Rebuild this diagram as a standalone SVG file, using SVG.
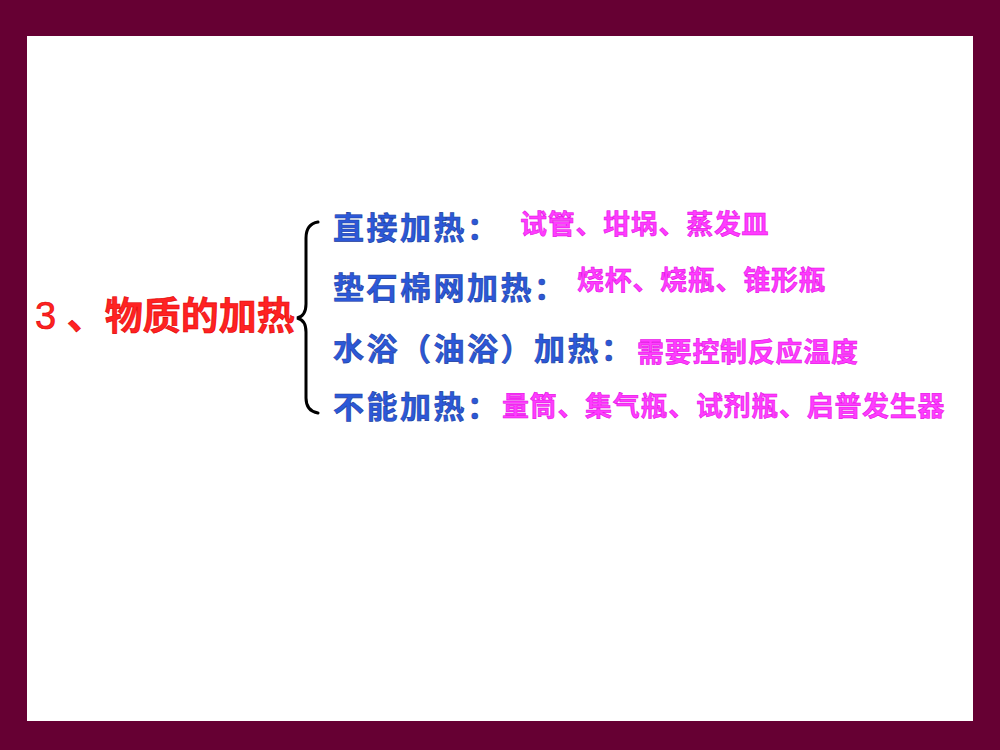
<svg xmlns="http://www.w3.org/2000/svg" width="1000" height="750" viewBox="0 0 1000 750">
  <style>
    .cjk { font-family: "Noto Sans CJK SC", "Noto Sans CJK TC", sans-serif; font-weight: bold; }
    .title { font-family: "Liberation Sans", "Noto Sans CJK SC", sans-serif; font-weight: normal; font-size: 38px; fill: #ff2222; stroke: #dd0000; stroke-width: 0.6; }
    .cat { font-size: 31px; letter-spacing: 2.5px; fill: #2c58d8; stroke: #1a3c9e; stroke-width: 0.6; }
    .item { font-size: 27px; letter-spacing: 0.7px; fill: #ff3cff; stroke: #e000e0; stroke-width: 0.5; }
  </style>
  <rect x="0" y="0" width="1000" height="750" fill="#660033"/>
  <rect x="27" y="36" width="946" height="685" fill="#ffffff"/>

  <g id="title">
    <text class="title" x="35" y="329">3 <tspan class="cjk">、物质的加热</tspan></text>
  </g>

  <g id="connectors">
    <path d="M318,222 Q306,224 306,238 L306,304 Q306,316 297,318 Q306,320 306,332 L306,398 Q306,411 318,413" fill="none" stroke="#000000" stroke-width="3" stroke-linecap="round"/>
  </g>

  <g id="row1">
    <text class="cjk cat" x="333" y="239">直接加热：</text>
    <text class="cjk item" x="520" y="234">试管、坩埚、蒸发皿</text>
  </g>
  <g id="row2">
    <text class="cjk cat" x="333" y="299">垫石棉网加热：</text>
    <text class="cjk item" x="577" y="290">烧杯、烧瓶、锥形瓶</text>
  </g>
  <g id="row3">
    <text class="cjk cat" x="333" y="360">水浴（油浴）加热：</text>
    <text class="cjk item" x="637" y="362">需要控制反应温度</text>
  </g>
  <g id="row4">
    <text class="cjk cat" x="333" y="418">不能加热：</text>
    <text class="cjk item" x="502" y="416">量筒、集气瓶、试剂瓶、启普发生器</text>
  </g>
</svg>
